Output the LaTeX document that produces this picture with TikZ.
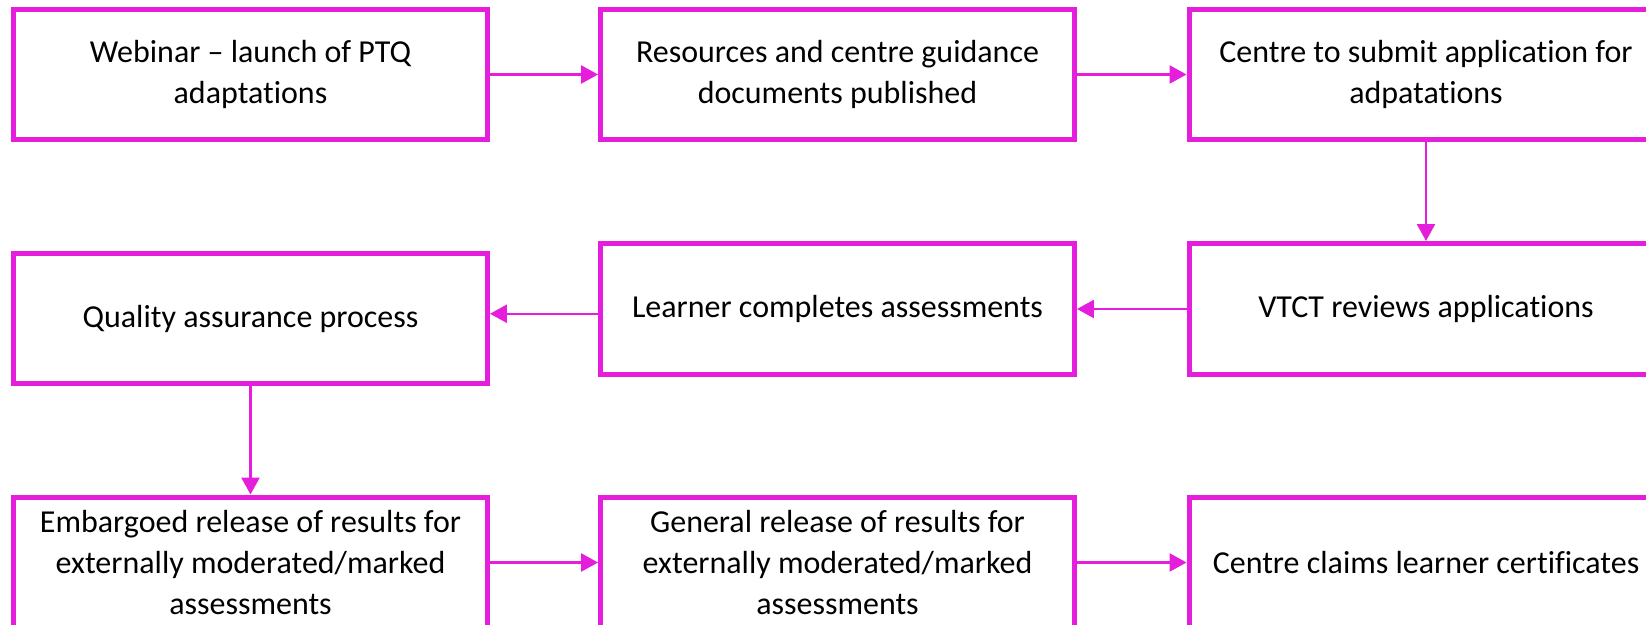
\documentclass[tikz,border=0pt]{standalone}
\usepackage{fontspec}
\setmainfont{Carlito}[Ligatures={NoCommon}]
\usepackage{tikz}
\usetikzlibrary{arrows.meta,calc}
\definecolor{flowpink}{RGB}{229,30,220}

\begin{document}
\begin{tikzpicture}[x=0.02cm,y=-0.02cm,
    box/.style={draw=flowpink,line width=0.1cm,fill=white,
        minimum width=9.48cm,minimum height=2.62cm,inner sep=0pt,
        align=center,font=\fontsize{18.2}{23.2}\selectfont},
    link/.style={draw=flowpink,line width=0.05cm,
        -{Triangle[length=0.34cm,width=0.36cm]}}]
    \useasboundingbox (0,0) rectangle (1646,625);
    \clip (0,0) rectangle (1646,625);

    % Top row
    \node[box] (webinar) at (250.5,74.5) {Webinar – launch of PTQ\\adaptations};
    \node[box] (resources) at (837.5,74.5) {Resources and centre guidance\\documents published};
    \node[box] (submit) at (1426,74.5) {Centre to submit application for\\adpatations};

    % Middle row
    \node[box] (qa) at (250.5,318.5) {Quality assurance process};
    \node[box] (learner) at (837.5,309) {Learner completes assessments};
    \node[box] (review) at (1426,309) {VTCT reviews applications};

    % Bottom row
    \node[box] (embargo) at (250.5,562.5) {Embargoed release of results for\\externally moderated/marked\\assessments};
    \node[box] (general) at (837.5,562.5) {General release of results for\\externally moderated/marked\\assessments};
    \node[box] (claims) at (1426,562.5) {Centre claims learner certificates};

    % Arrows
    \draw[link] (webinar.east) -- (resources.west);
    \draw[link] (resources.east) -- (submit.west);
    \draw[link] (submit.south) -- (review.north);
    \draw[link] (review.west) -- (learner.east);
    \coordinate (mid) at ($(learner.west)!.5!(qa.east)$);
    \draw[link] (learner.west |- mid) -- (qa.east |- mid);
    \draw[link] (qa.south) -- (embargo.north);
    \draw[link] (embargo.east) -- (general.west);
    \draw[link] (general.east) -- (claims.west);
\end{tikzpicture}
\end{document}
